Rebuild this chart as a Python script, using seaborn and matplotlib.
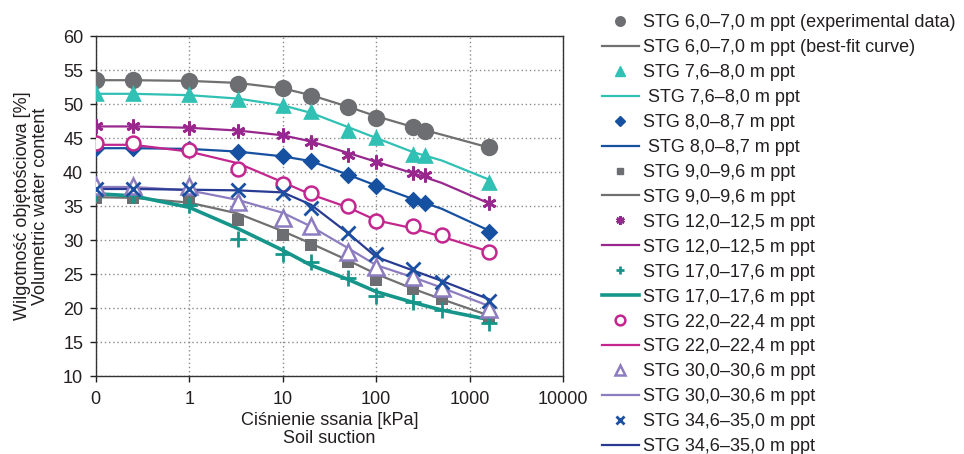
import numpy as np
import pandas as pd
import matplotlib
matplotlib.use("Agg")
import matplotlib.pyplot as plt
from matplotlib.lines import Line2D
import seaborn as sns

# suction values [kPa] (the "0" point is drawn at 0.1 on the log axis)
x_a = [0.1, 0.25, 1, 3.3, 10, 20, 50, 100, 250, 330, 1600]
x_b = [0.1, 0.25, 1, 3.3, 10, 20, 50, 100, 250, 500, 1600]
x_fit = [0.1, 0.25, 1, 3.3, 10, 20, 50, 100, 250, 500, 1600]

labels = ["STG 6,0–7,0 m ppt", "STG 7,6–8,0 m ppt", "STG 8,0–8,7 m ppt",
          "STG 9,0–9,6 m ppt", "STG 12,0–12,5 m ppt", "STG 17,0–17,6 m ppt",
          "STG 22,0–22,4 m ppt", "STG 30,0–30,6 m ppt", "STG 34,6–35,0 m ppt"]

# measured water content [%]
pts_6_7 = [53.5, 53.5, 53.4, 53.0, 52.3, 51.2, 49.5, 48.0, 46.6, 46.1, 43.7]
pts_7_8 = [51.6, 51.6, 51.4, 50.8, 49.8, 49.0, 46.2, 45.1, 42.7, 42.5, 38.6]
pts_8_9 = [43.6, 43.6, 43.4, 42.9, 42.3, 41.6, 39.5, 38.0, 35.9, 35.5, 31.2]
pts_9_10 = [36.2, 36.2, 35.8, 32.9, 30.7, 29.2, 26.7, 24.1, 22.8, 21.3, 18.5]
pts_12 = [46.7, 46.7, 46.5, 46.1, 45.5, 44.4, 42.5, 41.4, 39.9, 39.5, 35.4]
pts_17 = [36.9, 36.6, 35.1, 30.2, 28.0, 26.8, 24.4, 21.8, 20.9, 19.7, 17.8]
pts_22 = [44.2, 44.2, 43.2, 40.5, 38.2, 36.9, 35.0, 32.8, 32.0, 30.7, 28.3]
pts_30 = [37.9, 37.9, 37.9, 35.6, 33.3, 32.0, 28.3, 26.1, 24.5, 22.9, 19.9]
pts_35 = [37.5, 37.5, 37.5, 37.4, 36.9, 34.7, 31.1, 27.9, 25.8, 23.8, 21.0]

# best-fit curves read at x_fit
fit_6_7 = [53.5, 53.5, 53.4, 53.1, 52.3, 51.3, 49.6, 48.2, 46.6, 45.5, 43.6]
fit_7_8 = [51.5, 51.5, 51.3, 50.8, 49.8, 48.7, 46.6, 45.0, 42.9, 41.7, 38.9]
fit_8_9 = [43.5, 43.5, 43.4, 43.0, 42.3, 41.6, 39.6, 38.0, 36.0, 34.6, 31.4]
fit_9_10 = [36.3, 36.2, 35.5, 33.9, 31.3, 29.5, 27.0, 25.0, 22.8, 21.3, 18.9]
fit_12 = [46.7, 46.7, 46.5, 46.1, 45.4, 44.5, 42.8, 41.5, 39.8, 38.4, 35.4]
fit_17 = [36.8, 36.5, 34.8, 31.7, 28.5, 26.3, 24.2, 22.4, 20.8, 19.7, 18.3]
fit_22 = [44.0, 44.0, 43.0, 41.3, 38.5, 36.7, 34.8, 32.9, 31.7, 30.5, 28.3]
fit_30 = [37.8, 37.8, 37.3, 35.9, 34.0, 32.0, 28.8, 26.3, 24.5, 23.0, 20.3]
fit_35 = [37.5, 37.5, 37.4, 37.3, 37.0, 35.2, 31.0, 27.5, 25.5, 24.0, 21.3]

series = [
    # label idx, x, points, fit, marker, marker color, line color, marker size, line width, fill
    (0, x_a, pts_6_7, fit_6_7, "o", "#6d6e71", "#707070", 12.5, 1.6, True),
    (1, x_a, pts_7_8, fit_7_8, "^", "#30c0b4", "#30c0b4", 12, 1.6, True),
    (2, x_a, pts_8_9, fit_8_9, "D", "#1650a0", "#1650a0", 9, 1.6, True),
    (3, x_b, pts_9_10, fit_9_10, "s", "#6d6e71", "#707070", 9, 1.6, True),
    (4, x_a, pts_12, fit_12, (6, 2, 0), "#98288e", "#98288e", 10, 1.6, False),
    (5, x_b, pts_17, fit_17, "+", "#16968a", "#16968a", 11, 2.6, False),
    (6, x_b, pts_22, fit_22, "o", "#c3268e", "#c3268e", 10, 1.6, "hollow"),
    (7, x_b, pts_30, fit_30, "^", "#8d7cbf", "#8d7cbf", 11, 1.6, "hollow"),
    (8, x_b, pts_35, fit_35, "x", "#1a4fa2", "#283a92", 10, 1.6, False),
]

plt.rcParams["font.family"] = ["Liberation Sans", "DejaVu Sans"]
fig = plt.figure(figsize=(9.64, 4.54), dpi=100)
ax = fig.add_axes([0.0993, 0.1718, 0.4850, 0.7489])

handles = []
for idx, xs, pts, fit, mk, mcol, lcol, ms, lw, fill in series:
    sns.lineplot(x=x_fit, y=fit, ax=ax, color=lcol, lw=lw, zorder=2)
    if fill == "hollow":
        ax.plot(xs, pts, ls="none", marker=mk, ms=ms, mfc="white", mec=mcol,
                mew=1.8, zorder=3)
        h = Line2D([], [], ls="none", marker=mk, ms=7, mfc="white", mec=mcol, mew=1.8)
    elif fill is True:
        sns.scatterplot(x=xs, y=pts, ax=ax, marker=mk, s=ms ** 2, color=mcol,
                        edgecolor=mcol, linewidth=0, zorder=3)
        h = Line2D([], [], ls="none", marker=mk, ms=ms * 0.55, color=mcol, mec=mcol)
    else:
        ax.plot(xs, pts, ls="none", marker=mk, ms=ms, color=mcol, mew=2, zorder=3)
        h = Line2D([], [], ls="none", marker=mk, ms=6, color=mcol, mew=2)
    name = labels[idx]
    if idx == 0:
        handles.append((h, name + " (experimental data)"))
        handles.append((Line2D([], [], color=lcol, lw=lw), name + " (best-fit curve)"))
    else:
        handles.append((h, name))
        pad = " " if idx in (1, 2) else ""
        handles.append((Line2D([], [], color=lcol, lw=lw), pad + name))

ax.set_xscale("log")
ax.set_xlim(0.1, 10000)
ax.set_ylim(10, 60)
ax.set_xticks([0.1, 1, 10, 100, 1000, 10000])
ax.set_xticklabels(["0", "1", "10", "100", "1000", "10000"])
ax.minorticks_off()
ax.set_yticks(np.arange(10, 61, 5))
ax.tick_params(labelsize=13, colors="#231f20", length=4, width=1)
ax.tick_params(axis="x", pad=7)
ax.tick_params(axis="y", pad=5)
ax.grid(True, ls=(0, (1, 2)), color="#8a8a8a", lw=1)
for sp in ax.spines.values():
    sp.set_color("#333333")
    sp.set_linewidth(1)

ax.set_xlabel("Ciśnienie ssania [kPa]\nSoil suction", fontsize=13, color="#231f20",
              labelpad=2.5, linespacing=1.1)
ax.set_ylabel("Wilgotność objętościowa [%]\nVolumetric water content", fontsize=13,
              color="#231f20", labelpad=10, linespacing=1.05)

fig.legend([h for h, _ in handles], [t for _, t in handles], loc="upper left",
           bbox_to_anchor=(0.611, 0.9966), frameon=False, fontsize=13,
           handlelength=2.05, handletextpad=0.22, labelspacing=0.44, borderpad=0.2,
           labelcolor="#231f20")

fig.savefig("out.png", dpi=100)
